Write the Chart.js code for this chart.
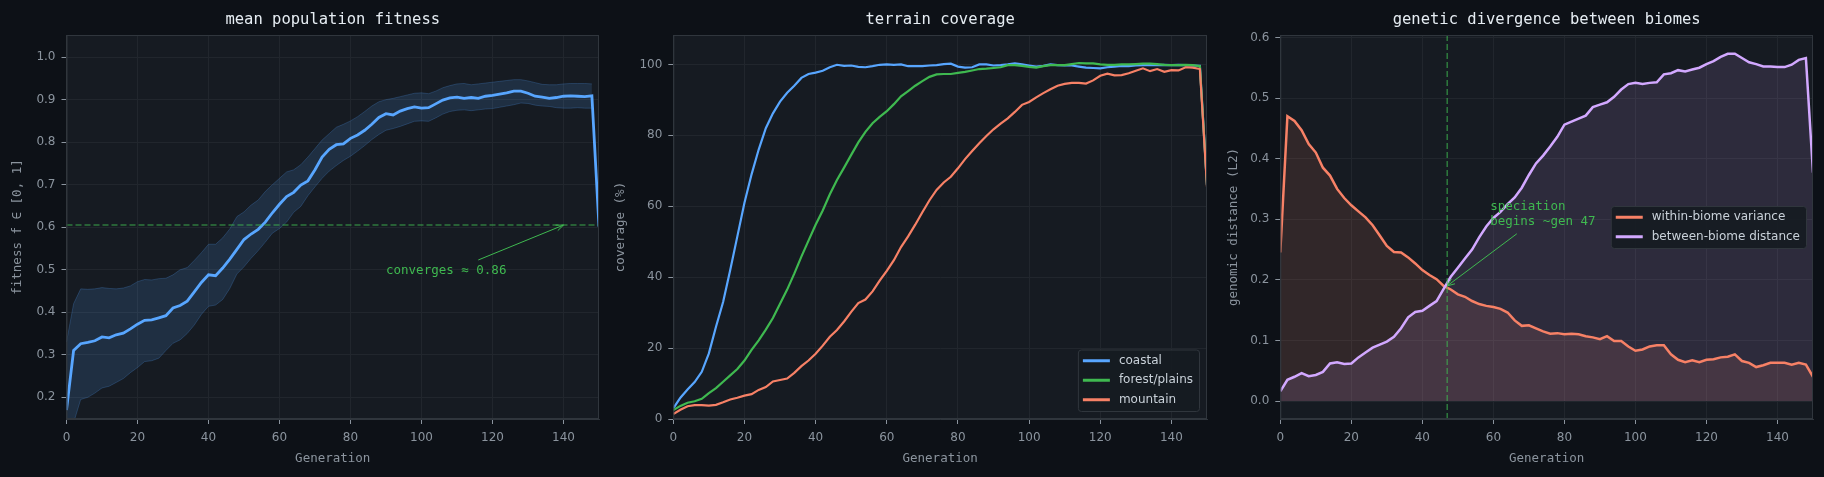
<!DOCTYPE html>
<html>
<head>
<meta charset="utf-8">
<title>evolution run</title>
<script src="https://cdn.jsdelivr.net/npm/chart.js@4.4.1/dist/chart.umd.min.js"></script>
<style>
  html, body { margin: 0; padding: 0; background: #0d1117; }
  #wrap { position: relative; width: 1824px; height: 477px; overflow: hidden; }
  .panel { position: absolute; top: 0; width: 608px; height: 477px; }
</style>
</head>
<body>
<div id="wrap">
  <div class="panel" style="left:0px"><canvas id="fitness-chart"></canvas></div>
  <div class="panel" style="left:608px"><canvas id="coverage-chart"></canvas></div>
  <div class="panel" style="left:1216px"><canvas id="divergence-chart"></canvas></div>
</div>
<script>
// ---- data ----

const generations = [0,2,4,6,8,10,12,14,16,18,20,22,24,26,28,30,32,34,36,38,
  40,42,44,46,48,50,52,54,56,58,60,62,64,66,68,70,72,74,76,78,
  80,82,84,86,88,90,92,94,96,98,100,102,104,106,108,110,112,114,116,118,
  120,122,124,126,128,130,132,134,136,138,140,142,144,146,148,150];

const genTicks = [0,20,40,60,80,100,120,140];

// mean population fitness + spread band
const fitnessMean = [0.17,0.31,0.326,0.329,0.333,0.342,0.34,0.347,0.351,0.361,
  0.372,0.381,0.382,0.387,0.392,0.41,0.416,0.426,0.448,0.47,
  0.488,0.486,0.504,0.525,0.548,0.571,0.584,0.595,0.612,0.634,
  0.654,0.672,0.682,0.699,0.709,0.735,0.765,0.783,0.794,0.796,
  0.809,0.817,0.828,0.842,0.858,0.867,0.864,0.873,0.879,0.883,
  0.88,0.881,0.89,0.899,0.904,0.906,0.903,0.905,0.903,0.908,
  0.91,0.913,0.916,0.92,0.92,0.915,0.908,0.906,0.903,0.905,
  0.908,0.909,0.908,0.907,0.909,0.601];
const fitnessUpper = [0.33,0.42,0.455,0.454,0.455,0.458,0.456,0.455,0.457,0.462,
  0.472,0.477,0.476,0.479,0.48,0.488,0.5,0.505,0.522,0.54,
  0.56,0.56,0.575,0.596,0.625,0.636,0.652,0.664,0.684,0.70,
  0.715,0.73,0.735,0.747,0.765,0.785,0.805,0.82,0.835,0.842,
  0.85,0.86,0.872,0.885,0.895,0.90,0.903,0.907,0.911,0.915,
  0.916,0.914,0.92,0.928,0.933,0.937,0.938,0.935,0.937,0.939,
  0.941,0.943,0.945,0.947,0.947,0.944,0.94,0.936,0.935,0.935,
  0.937,0.938,0.938,0.938,0.937,null];
const fitnessLower = [0.02,0.14,0.195,0.20,0.21,0.222,0.226,0.235,0.244,0.258,
  0.27,0.284,0.286,0.292,0.31,0.327,0.335,0.35,0.37,0.395,
  0.414,0.417,0.43,0.456,0.49,0.507,0.527,0.545,0.565,0.586,
  0.597,0.612,0.635,0.649,0.674,0.695,0.715,0.732,0.745,0.757,
  0.767,0.779,0.792,0.806,0.818,0.828,0.832,0.837,0.843,0.849,
  0.85,0.849,0.857,0.866,0.872,0.875,0.876,0.874,0.876,0.878,
  0.879,0.882,0.885,0.888,0.892,0.891,0.887,0.885,0.884,0.881,
  0.88,0.88,0.881,0.88,0.88,null];
const fitnessTicks = [0.2,0.3,0.4,0.5,0.6,0.7,0.8,0.9,1.0];

// terrain coverage (%)
const terrainNames = ['coastal', 'forest/plains', 'mountain'];
const coastal = [3.0,6.0,8.3,10.4,13.3,18.5,26,33,42,51.5,
  61,69,76,82,86.2,89.5,92,94,96.2,97.3,
  97.7,98.2,99.2,99.9,99.6,99.7,99.3,99.2,99.5,99.9,
  100,99.9,100,99.5,99.5,99.5,99.7,99.8,100.1,100.2,
  99.4,99.1,99.2,100,100,99.7,99.8,100,100.3,100,
  99.7,99.4,99.6,100,99.8,99.7,99.7,99.4,99.1,99,
  98.9,99.2,99.4,99.6,99.5,99.7,99.8,99.9,99.8,99.9,
  99.8,99.9,99.8,99.7,99.6,66];
const forestPlains = [2.5,3.7,4.6,5.0,5.7,7.3,8.7,10.5,12.3,14.1,
  16.5,19.5,22.2,25.2,28.5,32.5,36.5,41,45.8,50.3,
  54.8,58.8,63.4,67.4,70.9,74.5,78,81,83.4,85.2,
  86.8,88.8,91,92.5,94,95.3,96.5,97.2,97.3,97.3,
  97.6,97.9,98.3,98.7,98.8,99,99.2,99.8,99.8,99.6,
  99.3,99.1,99.5,99.8,99.8,99.8,100.1,100.4,100.3,100.3,
  100,99.9,99.9,100,100,100.1,100.2,100.2,100.1,99.9,
  99.8,99.8,99.9,99.8,99.5,66];
const mountain = [1.4,2.6,3.6,3.9,3.9,3.8,4.0,4.7,5.5,6.0,
  6.6,7.0,8.2,9.0,10.6,11.0,11.4,13.0,14.9,16.5,
  18.4,20.7,23.2,25.1,27.5,30.2,32.7,33.7,36.0,39.0,
  41.8,44.8,48.5,51.5,54.8,58.3,61.7,64.6,66.7,68.3,
  70.7,73.3,75.6,77.8,79.8,81.7,83.3,84.8,86.6,88.6,
  89.4,90.7,91.9,93.0,94.0,94.5,94.8,94.8,94.6,95.5,
  96.8,97.4,96.9,97.0,97.5,98.2,98.9,98.1,98.7,97.9,
  98.4,98.3,99.2,99.1,98.7,65.5];
const coverageTicks = [0,20,40,60,80,100];

// genetic divergence (L2)
const divergenceNames = ['within-biome variance', 'between-biome distance'];
const withinBiome = [0.245,0.47,0.462,0.447,0.424,0.41,0.385,0.372,0.35,0.335,
  0.323,0.313,0.303,0.29,0.273,0.256,0.246,0.245,0.237,0.227,
  0.216,0.208,0.201,0.19,0.184,0.176,0.172,0.165,0.16,0.157,
  0.155,0.152,0.146,0.133,0.124,0.125,0.12,0.115,0.111,0.112,
  0.11,0.111,0.11,0.107,0.105,0.102,0.107,0.099,0.099,0.09,
  0.083,0.085,0.09,0.092,0.092,0.077,0.068,0.064,0.067,0.064,
  0.068,0.069,0.072,0.073,0.077,0.066,0.063,0.056,0.059,0.063,
  0.063,0.063,0.06,0.063,0.06,0.04];
const betweenBiome = [0.016,0.035,0.04,0.046,0.041,0.043,0.048,0.062,0.064,0.061,
  0.062,0.072,0.08,0.088,0.093,0.098,0.106,0.12,0.138,0.147,
  0.149,0.157,0.165,0.185,0.205,0.22,0.235,0.25,0.27,0.288,
  0.302,0.312,0.325,0.336,0.352,0.373,0.392,0.405,0.42,0.436,
  0.456,0.461,0.466,0.471,0.485,0.489,0.493,0.502,0.514,0.523,
  0.525,0.523,0.525,0.526,0.539,0.541,0.546,0.544,0.547,0.55,
  0.556,0.561,0.568,0.573,0.573,0.566,0.559,0.556,0.552,0.552,
  0.551,0.551,0.555,0.563,0.566,0.377];
const divergenceTicks = [0.0,0.1,0.2,0.3,0.4,0.5,0.6];

const convergeLevel = 0.605;
const speciationGen = 47;

// ---- styling ----

const MONO = "'DejaVu Sans Mono', monospace";
const SANS = "'DejaVu Sans', sans-serif";
const TEXT = '#e6edf3';
const MUTED = '#8b949e';
const GRID = '#21262d';
const SPINE = '#30363d';
const PANEL = '#161b22';
const BLUE = '#58a6ff', GREEN = '#3fb950', ORANGE = '#f78166', PURPLE = '#d2a8ff';

Chart.defaults.font.family = SANS;
Chart.defaults.font.size = 12;
Chart.defaults.color = MUTED;
Chart.defaults.animation = false;

function points(ys) {
  return generations.map((g, i) => ({x: g, y: ys[i]}));
}

function xAxis() {
  return {
    type: 'linear', min: 0, max: 150,
    afterBuildTicks: s => { s.ticks = genTicks.map(v => ({value: v})); },
    afterFit: s => { s.height = 58; },
    ticks: {color: MUTED, padding: 7, font: {size: 12}},
    grid: {color: GRID, tickColor: MUTED, tickLength: 5},
    border: {color: SPINE},
    title: {display: true, text: 'Generation', color: MUTED,
      font: {family: MONO, size: 12.5}, padding: {top: 0, bottom: 11}}
  };
}

function yAxis(min, max, ticks, decimals, title, titlePad, width) {
  return {
    type: 'linear', min: min, max: max,
    afterBuildTicks: s => { s.ticks = ticks.map(v => ({value: v})); },
    afterFit: s => { s.width = width; },
    ticks: {color: MUTED, padding: 6, font: {size: 12}, callback: v => v.toFixed(decimals)},
    grid: {color: GRID, tickColor: MUTED, tickLength: 5},
    border: {color: SPINE},
    title: {display: true, text: title, color: MUTED,
      font: {family: MONO, size: 12.5}, padding: {top: titlePad, bottom: 0}}
  };
}

function dashed(ctx, x1, y1, x2, y2) {
  ctx.save();
  ctx.strokeStyle = 'rgba(63,185,80,0.6)';
  ctx.lineWidth = 1.5;
  ctx.setLineDash([6, 3]);
  ctx.beginPath(); ctx.moveTo(x1, y1); ctx.lineTo(x2, y2); ctx.stroke();
  ctx.restore();
}

function arrow(ctx, x1, y1, x2, y2) {
  const a = Math.atan2(y2 - y1, x2 - x1), L = 8, w = 0.38;
  ctx.save();
  ctx.strokeStyle = GREEN; ctx.lineWidth = 1;
  ctx.beginPath();
  ctx.moveTo(x1, y1); ctx.lineTo(x2, y2);
  ctx.moveTo(x2 - L * Math.cos(a - w), y2 - L * Math.sin(a - w));
  ctx.lineTo(x2, y2);
  ctx.lineTo(x2 - L * Math.cos(a + w), y2 - L * Math.sin(a + w));
  ctx.stroke();
  ctx.restore();
}

function note(ctx, lines, x, y) {
  ctx.save();
  ctx.fillStyle = GREEN;
  ctx.font = '12.5px ' + MONO;
  ctx.textAlign = 'left'; ctx.textBaseline = 'middle';
  lines.forEach((t, i) => ctx.fillText(t, x, y + i * 15.5));
  ctx.restore();
}

// legend box drawn inside the plot, anchored by its right edge
function legendBox(ctx, area, items, right, top) {
  ctx.save();
  ctx.font = '12px ' + SANS;
  const tw = Math.max(...items.map(it => ctx.measureText(it.label).width));
  const rowH = 19.5, padY = 1.5;
  const w = 5 + 27 + 9 + tw + 6, h = padY * 2 + rowH * items.length;
  const x0 = right - w;
  ctx.fillStyle = 'rgba(22,27,34,0.92)';
  ctx.strokeStyle = SPINE; ctx.lineWidth = 1;
  ctx.beginPath();
  ctx.roundRect(x0 + 0.5, top + 0.5, w, h, 3);
  ctx.fill(); ctx.stroke();
  items.forEach((it, i) => {
    const cy = top + padY + rowH * (i + 0.5);
    ctx.strokeStyle = it.color; ctx.lineWidth = 3;
    ctx.beginPath(); ctx.moveTo(x0 + 5, cy); ctx.lineTo(x0 + 32, cy); ctx.stroke();
    ctx.fillStyle = '#c9d1d9';
    ctx.textAlign = 'left'; ctx.textBaseline = 'middle';
    ctx.fillText(it.label, x0 + 41, cy);
  });
  ctx.restore();
  return h;
}

// plot background, frame, title and per-chart overlay
function panel(title, overlay) {
  return {
    id: 'panel',
    beforeDraw(chart) {
      const {ctx, chartArea: a} = chart;
      ctx.save();
      ctx.fillStyle = PANEL;
      ctx.fillRect(a.left, a.top, a.width, a.height);
      ctx.restore();
    },
    afterDraw(chart) {
      const {ctx, chartArea: a} = chart;
      if (overlay) overlay(chart);
      ctx.save();
      ctx.strokeStyle = SPINE; ctx.lineWidth = 1;
      ctx.strokeRect(a.left + 0.5, a.top + 0.5, a.width - 1, a.height - 1);
      ctx.fillStyle = TEXT;
      ctx.font = '15.5px ' + MONO;
      ctx.textAlign = 'center'; ctx.textBaseline = 'middle';
      ctx.fillText(title, (a.left + a.right) / 2, 20);
      ctx.restore();
    }
  };
}

function baseOptions(rightPad) {
  return {
    responsive: true, maintainAspectRatio: false, devicePixelRatio: 1,
    events: [],
    layout: {padding: {top: 35, right: rightPad, left: 0, bottom: 0}},
    elements: {point: {radius: 0}, line: {tension: 0}},
    plugins: {legend: {display: false}, tooltip: {enabled: false}, filler: {drawTime: 'beforeDatasetsDraw'}}
  };
}

// Mean population fitness

const fitOpts = baseOptions(9);
fitOpts.scales = {
  x: xAxis(),
  y: yAxis(0.149, 1.052, fitnessTicks, 1, 'fitness f \u2208 [0, 1]', 10, 66.5)
};

new Chart(document.getElementById('fitness-chart'), {
  type: 'line',
  data: {
    datasets: [
      {label: 'mean fitness', data: points(fitnessMean), borderColor: BLUE, borderWidth: 2.8, fill: false, order: 0},
      {label: 'upper', data: points(fitnessUpper), borderColor: 'rgba(88,166,255,0.22)', borderWidth: 1,
        backgroundColor: 'rgba(88,166,255,0.15)', fill: '+1', order: 1},
      {label: 'lower', data: points(fitnessLower), borderColor: 'rgba(88,166,255,0.22)', borderWidth: 1, fill: false, order: 2}
    ]
  },
  options: fitOpts,
  plugins: [panel('mean population fitness', chart => {
    const {ctx, chartArea: a, scales: {x, y}} = chart;
    const yl = y.getPixelForValue(convergeLevel);
    dashed(ctx, a.left, yl, a.right, yl);
    note(ctx, ['converges \u2248 0.86'], x.getPixelForValue(90), y.getPixelForValue(0.497));
    arrow(ctx, x.getPixelForValue(116), y.getPixelForValue(0.523), x.getPixelForValue(140), yl);
  })]
});

// Terrain coverage

const covOpts = baseOptions(9);
covOpts.scales = {
  x: xAxis(),
  y: yAxis(0, 108.3, coverageTicks, 0, 'coverage (%)', 5.5, 65.3)
};

new Chart(document.getElementById('coverage-chart'), {
  type: 'line',
  data: {
    datasets: [
      {label: terrainNames[0], data: points(coastal), borderColor: BLUE, borderWidth: 2.2, fill: false, order: 2},
      {label: terrainNames[1], data: points(forestPlains), borderColor: GREEN, borderWidth: 2.2, fill: false, order: 1},
      {label: terrainNames[2], data: points(mountain), borderColor: ORANGE, borderWidth: 2.2, fill: false, order: 0}
    ]
  },
  options: covOpts,
  plugins: [panel('terrain coverage', chart => {
    const {ctx, chartArea: a} = chart;
    const items = chart.data.datasets.map(d => ({label: d.label, color: d.borderColor}));
    legendBox(ctx, a, items, a.right - 8, a.bottom - 8 - (1.5 * 2 + 19.5 * items.length));
  })]
});

// Genetic divergence between biomes

const divOpts = baseOptions(11);
divOpts.scales = {
  x: xAxis(),
  y: yAxis(-0.0297, 0.604, divergenceTicks, 1, 'genomic distance (L2)', 10, 64.3)
};

new Chart(document.getElementById('divergence-chart'), {
  type: 'line',
  data: {
    datasets: [
      {label: divergenceNames[0], data: points(withinBiome), borderColor: ORANGE, borderWidth: 2.5,
        backgroundColor: 'rgba(247,129,102,0.12)', fill: 'origin', order: 1},
      {label: divergenceNames[1], data: points(betweenBiome), borderColor: PURPLE, borderWidth: 2.5,
        backgroundColor: 'rgba(210,168,255,0.12)', fill: 'origin', order: 0}
    ]
  },
  options: divOpts,
  plugins: [panel('genetic divergence between biomes', chart => {
    const {ctx, chartArea: a, scales: {x, y}} = chart;
    const xs = x.getPixelForValue(speciationGen);
    dashed(ctx, xs, a.top, xs, a.bottom);
    note(ctx, ['speciation', 'begins ~gen 47'], x.getPixelForValue(59.1), y.getPixelForValue(0.3206));
    arrow(ctx, x.getPixelForValue(66.6), y.getPixelForValue(0.276), xs, y.getPixelForValue(0.19));
    const items = chart.data.datasets.map(d => ({label: d.label, color: d.borderColor}));
    const h = 1.5 * 2 + 19.5 * items.length;
    legendBox(ctx, a, items, a.right - 7, (a.top + a.bottom) / 2 - h / 2);
  })]
});
</script>
</body>
</html>
